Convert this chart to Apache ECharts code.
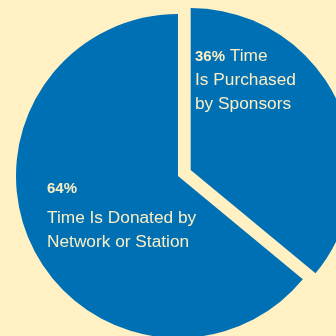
<!DOCTYPE html>
<html>
<head>
<meta charset="utf-8">
<script src="https://cdn.jsdelivr.net/npm/echarts@6/dist/echarts.min.js"></script>
<style>
  html, body { margin: 0; padding: 0; background: #FFF1C4; }
  #chart { width: 336px; height: 336px; }
</style>
</head>
<body>
<div id="chart"></div>
<script>
// Who pays for airtime: share of time purchased vs. donated
const sliceNames = ['Time Is Purchased by Sponsors', 'Time Is Donated by Network or Station'];
const sliceValues = [36, 64];
const percentTexts = ['36%', '64%'];
const labelLines = [
  ['Time', 'Is Purchased', 'by Sponsors'],
  ['Time Is Donated by', 'Network or Station']
];

const BLUE = '#0070B4';
const CREAM = '#FFF1C4';
const TEXT = '#FBEEC4';
const FONT = '"Liberation Sans", Arial, Helvetica, sans-serif';

const richStyles = {
  p:  { fontSize: 15, fontWeight: 'bold', fill: TEXT, fontFamily: FONT, lineHeight: 23.5 },
  p2: { fontSize: 15, fontWeight: 'bold', fill: TEXT, fontFamily: FONT, lineHeight: 36 },
  t:  { fontSize: 17.3, fill: TEXT, fontFamily: FONT, lineHeight: 24 }
};

const purchasedText = '{p|' + percentTexts[0] + '} {t|' + labelLines[0][0] + '}\n{t|' +
  labelLines[0][1] + '}\n{t|' + labelLines[0][2] + '}';
const donatedText = '{p2|' + percentTexts[1] + '}\n{t|' + labelLines[1][0] + '}\n{t|' +
  labelLines[1][1] + '}';

const chart = echarts.init(document.getElementById('chart'), null, { renderer: 'canvas' });

chart.setOption({
  backgroundColor: CREAM,
  animation: false,
  series: [{
    type: 'pie',
    center: [178, 176],
    radius: 162,
    startAngle: 90,
    clockwise: true,
    selectedMode: 'single',
    selectedOffset: 14,
    silent: true,
    itemStyle: { color: BLUE, borderWidth: 0 },
    emphasis: { disabled: true },
    label: { show: false },
    labelLine: { show: false },
    data: sliceNames.map((name, i) => ({ name, value: sliceValues[i], selected: i === 0 }))
  }],
  // Slice captions, set over each slice
  graphic: [
    {
      type: 'text', left: 195, top: 48, z: 10, silent: true,
      style: { text: purchasedText, rich: richStyles, fill: TEXT, font: '17px ' + FONT }
    },
    {
      type: 'text', left: 47, top: 181, z: 10, silent: true,
      style: { text: donatedText, rich: richStyles, fill: TEXT, font: '17px ' + FONT }
    }
  ]
});
</script>
</body>
</html>
